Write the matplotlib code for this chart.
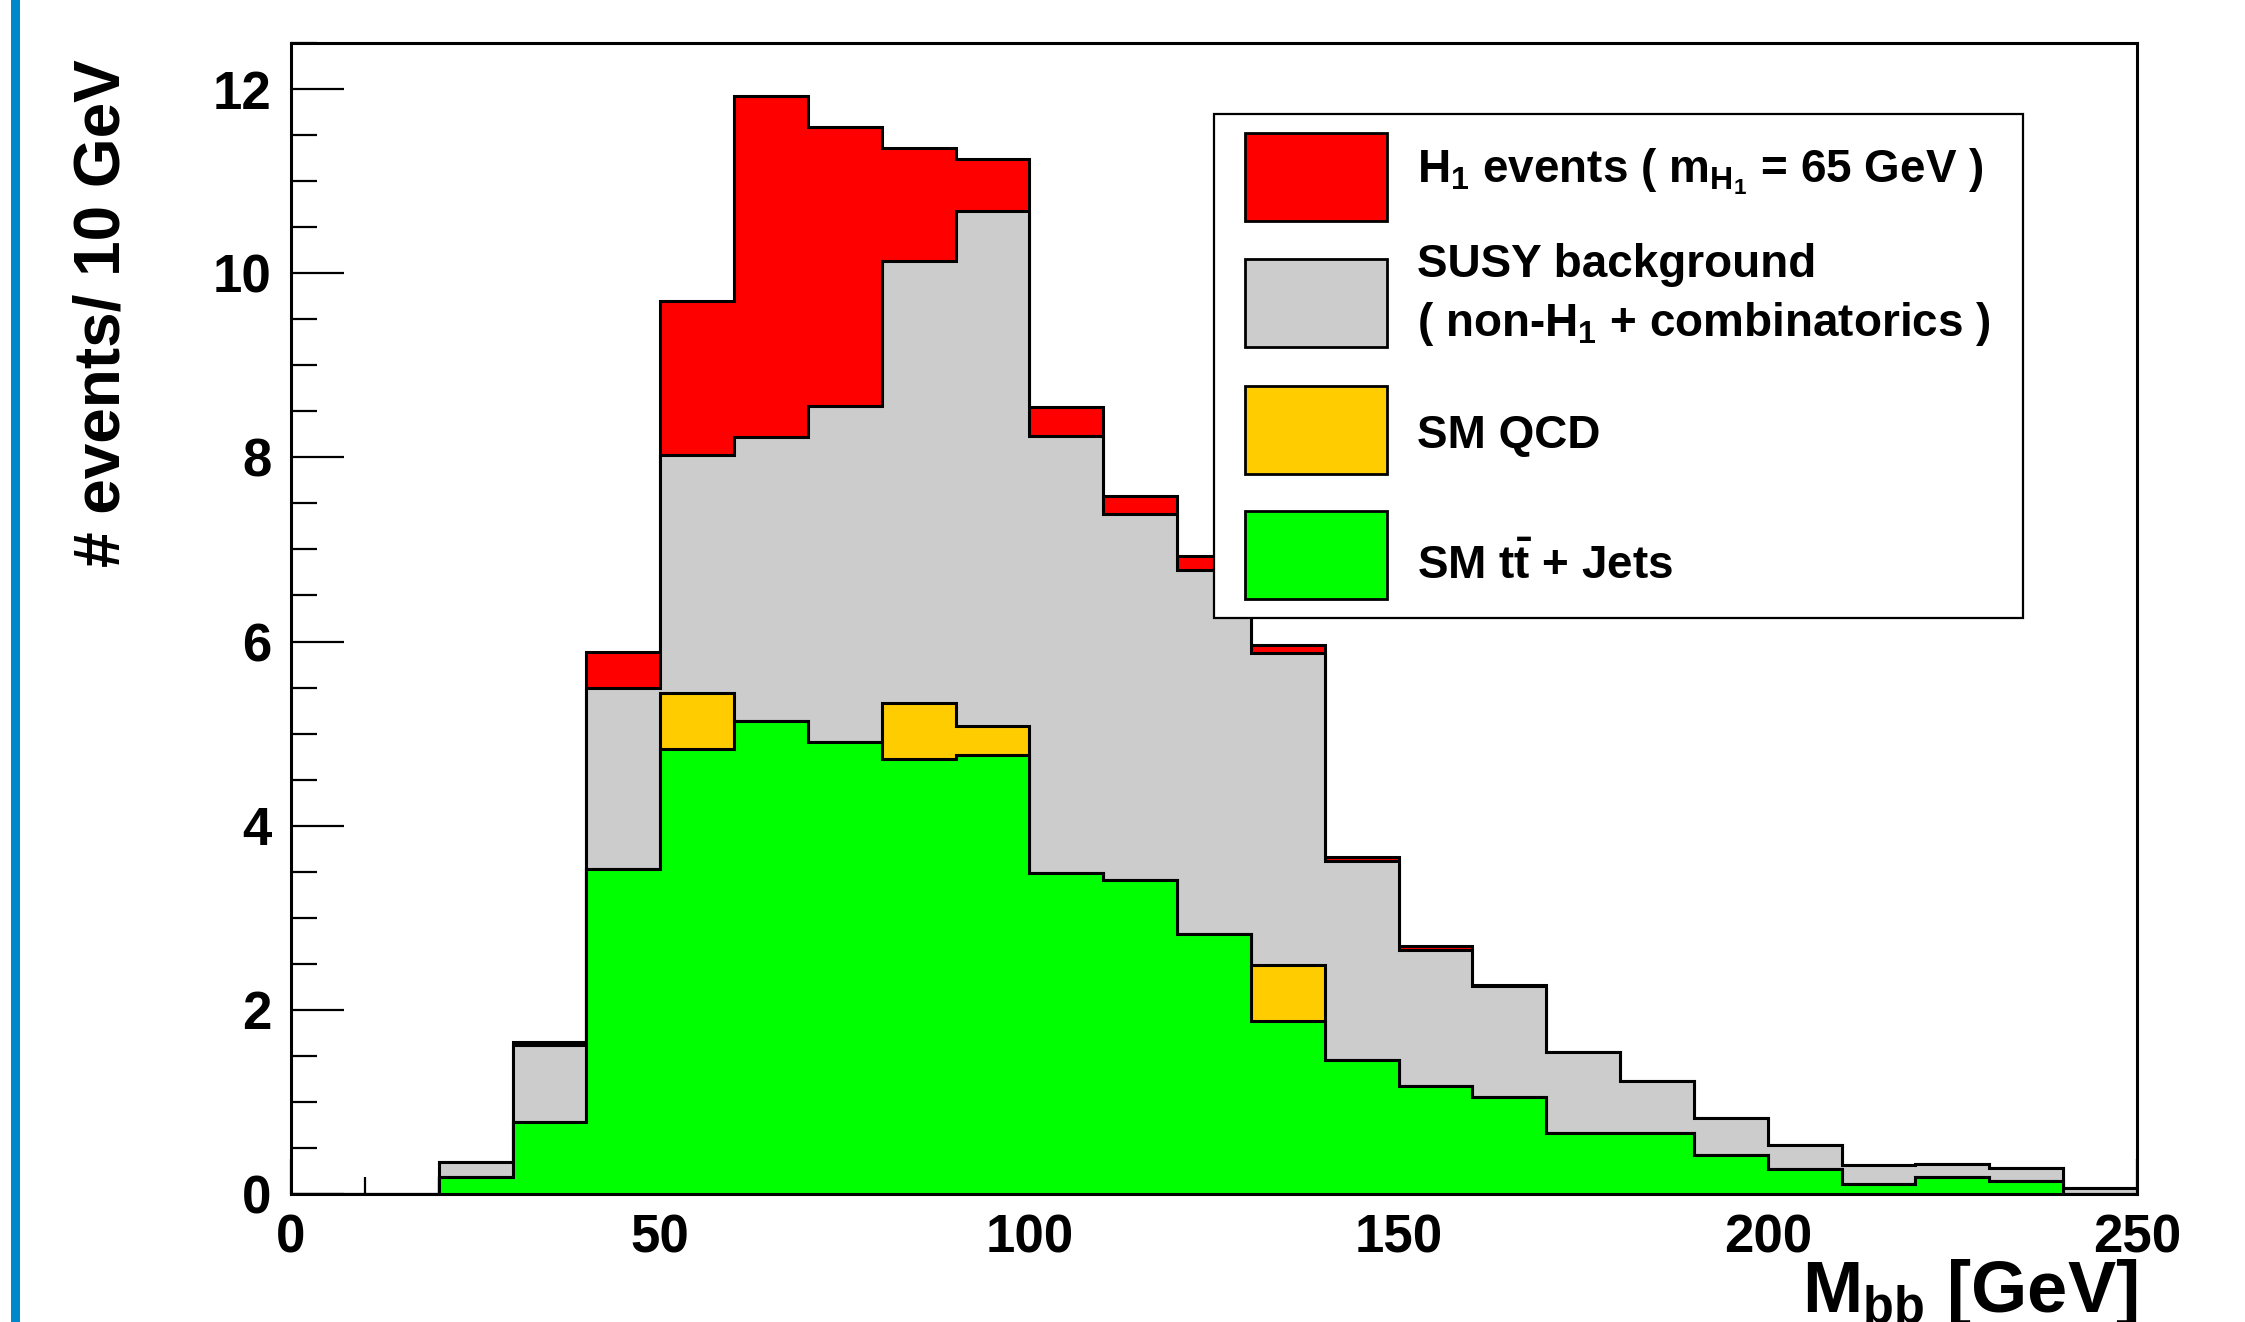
import numpy as np
import matplotlib
matplotlib.use('Agg')
import matplotlib.pyplot as plt
from matplotlib.patches import Rectangle
from matplotlib.ticker import MultipleLocator

plt.rcParams['font.family'] = ['Liberation Sans', 'DejaVu Sans']
plt.rcParams['font.weight'] = 'bold'
plt.rcParams['mathtext.fontset'] = 'custom'
plt.rcParams['mathtext.rm'] = 'Liberation Sans:bold'
plt.rcParams['mathtext.bf'] = 'Liberation Sans:bold'
plt.rcParams['mathtext.it'] = 'Liberation Sans:bold'
plt.rcParams['mathtext.default'] = 'bf'

# M_bb bins, 10 GeV wide
bin_edges = np.arange(0, 251, 10)

# per-bin contributions, stacked bottom -> top
ttbar_jets = [0.00, 0.00, 0.18, 0.78, 3.53, 4.83, 5.14, 4.91, 4.72, 4.77, 3.49, 3.41, 2.82,
              1.88, 1.45, 1.17, 1.05, 0.66, 0.66, 0.42, 0.27, 0.11, 0.19, 0.14, 0.00]
sm_qcd = [0.00, 0.00, 0.00, 0.00, 0.00, 0.61, 0.00, 0.00, 0.61, 0.31, 0.00, 0.00, 0.00,
          0.61, 0.00, 0.00, 0.00, 0.00, 0.00, 0.00, 0.00, 0.00, 0.00, 0.00, 0.00]
susy_bkg = [0.00, 0.00, 0.17, 0.84, 1.97, 2.59, 3.08, 3.65, 4.80, 5.60, 4.74, 3.97, 3.96,
            3.39, 2.17, 1.48, 1.21, 0.88, 0.57, 0.40, 0.26, 0.21, 0.14, 0.14, 0.06]
h1_events = [0.00, 0.00, 0.00, 0.03, 0.39, 1.67, 3.70, 3.03, 1.23, 0.56, 0.32, 0.20, 0.15,
             0.08, 0.04, 0.04, 0.01, 0.00, 0.00, 0.00, 0.00, 0.00, 0.00, 0.00, 0.00]

labels = ['H$_1$ events ( m$_{H_1}$ = 65 GeV )',
          'SUSY background\n( non-H$_1$ + combinatorics )',
          'SM QCD',
          'SM t$\\bar{t}$ + Jets']
colors = ['#ff0000', '#cccccc', '#ffcc00', '#00ff00']

W, H = 2245, 1322


def fx(px):
    return px / W


def fy(py):
    return 1 - py / H


fig = plt.figure(figsize=(W / 100, H / 100), dpi=100)
ax = fig.add_axes([fx(291), fy(1194), fx(2137) - fx(291), fy(43) - fy(1194)])

# cumulative stack, drawn back to front like THStack
layers = [ttbar_jets, sm_qcd, susy_bkg, h1_events]
cum = np.cumsum(np.array(layers), axis=0)
for i in range(3, -1, -1):
    ax.stairs(cum[i], bin_edges, fill=True, facecolor=colors[3 - i], edgecolor='none', zorder=2 + (3 - i))
    ax.stairs(cum[i], bin_edges, baseline=0, fill=False, color='black', lw=2.2, zorder=2 + (3 - i))

ax.set_xlim(0, 250)
ax.set_ylim(0, 12.5)
ax.xaxis.set_major_locator(MultipleLocator(50))
ax.xaxis.set_minor_locator(MultipleLocator(10))
ax.yaxis.set_major_locator(MultipleLocator(2))
ax.yaxis.set_minor_locator(MultipleLocator(0.5))
ax.tick_params(which='both', direction='in', top=False, right=False, width=1.6, labelsize=38, pad=14)
ax.tick_params(axis='y', which='major', length=38)
ax.tick_params(axis='y', which='minor', length=19)
ax.tick_params(axis='x', which='major', length=25)
ax.tick_params(axis='x', which='minor', length=12.5)
for lab in ax.get_xticklabels() + ax.get_yticklabels():
    lab.set_fontweight('bold')
for sp in ax.spines.values():
    sp.set_linewidth(2.2)
    sp.set_zorder(10)

fig.text(fx(2137), fy(1312), 'M$_{bb}$ [GeV]', fontsize=52, fontweight='bold', ha='right', va='baseline')
fig.text(fx(103), fy(59), '# events/ 10 GeV', fontsize=46, fontweight='bold', rotation=90,
         ha='center', va='top')

# legend box
fig.add_artist(Rectangle((fx(1214), fy(618)), fx(2023) - fx(1214), fy(114) - fy(618),
                         transform=fig.transFigure, facecolor='white', edgecolor='black', lw=1.6, zorder=20))
swatch_tops = [133, 259, 386, 511]
for c, top in zip(colors, swatch_tops):
    fig.add_artist(Rectangle((fx(1245), fy(top + 88)), fx(1387) - fx(1245), fy(top) - fy(top + 88),
                             transform=fig.transFigure, facecolor=c, edgecolor='black', lw=2.0, zorder=21))
text_baselines = [[182], [277, 336], [448], [579]]
for lab, bases in zip(labels, text_baselines):
    for line, b in zip(lab.split('\n'), bases):
        fig.text(fx(1417), fy(b), line, fontsize=33, fontweight='bold', ha='left', va='baseline', zorder=22)

# blue side bar
fig.add_artist(Rectangle((fx(11), 0), fx(9), 1, transform=fig.transFigure,
                         facecolor='#0088cc', edgecolor='none'))

fig.savefig('out.png', dpi=100)
